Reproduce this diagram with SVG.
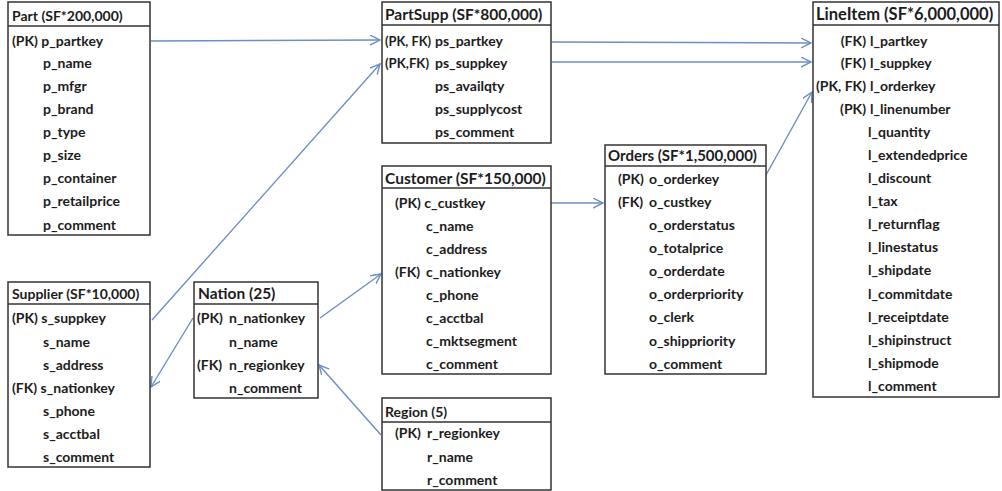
<svg xmlns="http://www.w3.org/2000/svg" width="1002" height="491" viewBox="0 0 1002 491">
<style>
.box{fill:#fff;stroke:#333;stroke-width:1.5}
.hl{stroke:#333;stroke-width:1.5}
text{font-family:Lato,"Open Sans",sans-serif;font-weight:bold;fill:#1c1c1c}
.h{font-size:14px}
.r{font-size:14px}
.e{text-anchor:end}
.c{fill:none;stroke:#6d8ec6;stroke-width:1.4}
</style>
<defs>
<marker id="a" markerWidth="12" markerHeight="12" refX="10" refY="5" orient="auto" markerUnits="userSpaceOnUse" viewBox="0 0 12 12">
<path d="M0,0 L10,5 L0,10" fill="none" stroke="#6d8ec6" stroke-width="1.4"/>
</marker>
</defs>
<rect width="1002" height="491" fill="#fff"/>
<g id="connectors">
<line class="c" x1="151" y1="41" x2="380" y2="40" marker-end="url(#a)"/>
<line class="c" x1="152" y1="320" x2="380" y2="64" marker-end="url(#a)"/>
<line class="c" x1="193" y1="318" x2="151" y2="387" marker-end="url(#a)"/>
<line class="c" x1="320" y1="318" x2="381" y2="274" marker-end="url(#a)"/>
<line class="c" x1="381" y1="435" x2="319" y2="365" marker-end="url(#a)"/>
<line class="c" x1="551" y1="203" x2="603" y2="203" marker-end="url(#a)"/>
<line class="c" x1="552" y1="42" x2="811" y2="43" marker-end="url(#a)"/>
<line class="c" x1="552" y1="62" x2="811" y2="62" marker-end="url(#a)"/>
<line class="c" x1="766" y1="175" x2="812" y2="92" marker-end="url(#a)"/>
</g>
<g id="part">
<rect class="box" x="8" y="2" width="142" height="233"/>
<line class="hl" x1="8" y1="26" x2="150" y2="26"/>
<text class="h" x="12" y="21">Part (SF*200,000)</text>
<text class="r" x="12" y="46">(PK) p_partkey</text>
<text class="r" x="43" y="68">p_name</text>
<text class="r" x="43" y="91">p_mfgr</text>
<text class="r" x="43" y="114">p_brand</text>
<text class="r" x="43" y="137">p_type</text>
<text class="r" x="43" y="160">p_size</text>
<text class="r" x="43" y="183">p_container</text>
<text class="r" x="43" y="206">p_retailprice</text>
<text class="r" x="43" y="230">p_comment</text>
</g>
<g id="partsupp">
<rect class="box" x="382" y="2" width="169" height="141"/>
<line class="hl" x1="382" y1="25" x2="551" y2="25"/>
<text class="h" x="385" y="20" style="font-size:15.5px">PartSupp (SF*800,000)</text>
<text class="r" x="385" y="46" textLength="46" lengthAdjust="spacingAndGlyphs">(PK, FK)</text>
<text class="r" x="435" y="46">ps_partkey</text>
<text class="r" x="385" y="68" textLength="44" lengthAdjust="spacingAndGlyphs">(PK,FK)</text>
<text class="r" x="435" y="68">ps_suppkey</text>
<text class="r" x="435" y="91">ps_availqty</text>
<text class="r" x="435" y="114">ps_supplycost</text>
<text class="r" x="435" y="137">ps_comment</text>
</g>
<g id="lineitem">
<rect class="box" x="813" y="2" width="186" height="395"/>
<line class="hl" x1="813" y1="25" x2="999" y2="25"/>
<text class="h" x="816" y="20" style="font-size:16.5px">LineItem (SF*6,000,000)</text>
<text class="r e" x="866" y="46">(FK)</text>
<text class="r" x="870" y="46">l_partkey</text>
<text class="r e" x="866" y="68">(FK)</text>
<text class="r" x="870" y="68">l_suppkey</text>
<text class="r e" x="866" y="91" textLength="50" lengthAdjust="spacingAndGlyphs">(PK, FK)</text>
<text class="r" x="870" y="91">l_orderkey</text>
<text class="r e" x="866" y="114">(PK)</text>
<text class="r" x="870" y="114">l_linenumber</text>
<text class="r" x="868" y="137">l_quantity</text>
<text class="r" x="868" y="160">l_extendedprice</text>
<text class="r" x="868" y="183">l_discount</text>
<text class="r" x="868" y="206">l_tax</text>
<text class="r" x="868" y="229">l_returnflag</text>
<text class="r" x="868" y="252">l_linestatus</text>
<text class="r" x="868" y="275">l_shipdate</text>
<text class="r" x="868" y="299">l_commitdate</text>
<text class="r" x="868" y="322">l_receiptdate</text>
<text class="r" x="868" y="345">l_shipinstruct</text>
<text class="r" x="868" y="368">l_shipmode</text>
<text class="r" x="868" y="391">l_comment</text>
</g>
<g id="supplier">
<rect class="box" x="8" y="282" width="142" height="185"/>
<line class="hl" x1="8" y1="304" x2="150" y2="304"/>
<text class="h" x="12" y="299">Supplier (SF*10,000)</text>
<text class="r" x="12" y="323">(PK) s_suppkey</text>
<text class="r" x="43" y="347">s_name</text>
<text class="r" x="43" y="370">s_address</text>
<text class="r" x="12" y="393">(FK) s_nationkey</text>
<text class="r" x="43" y="416">s_phone</text>
<text class="r" x="43" y="439">s_acctbal</text>
<text class="r" x="43" y="462">s_comment</text>
</g>
<g id="nation">
<rect class="box" x="194" y="282" width="124" height="116"/>
<line class="hl" x1="194" y1="304" x2="318" y2="304"/>
<text class="h" x="198" y="299" style="font-size:15.5px">Nation (25)</text>
<text class="r" x="197" y="323">(PK)</text>
<text class="r" x="229" y="323">n_nationkey</text>
<text class="r" x="229" y="347">n_name</text>
<text class="r" x="197" y="370">(FK)</text>
<text class="r" x="229" y="370">n_regionkey</text>
<text class="r" x="229" y="393">n_comment</text>
</g>
<g id="customer">
<rect class="box" x="382" y="166" width="169" height="208"/>
<line class="hl" x1="382" y1="188" x2="551" y2="188"/>
<text class="h" x="385" y="184" style="font-size:15.5px">Customer (SF*150,000)</text>
<text class="r" x="395" y="208">(PK) c_custkey</text>
<text class="r" x="426" y="231">c_name</text>
<text class="r" x="426" y="254">c_address</text>
<text class="r" x="395" y="277">(FK)</text>
<text class="r" x="426" y="277">c_nationkey</text>
<text class="r" x="426" y="300">c_phone</text>
<text class="r" x="426" y="323">c_acctbal</text>
<text class="r" x="426" y="346">c_mktsegment</text>
<text class="r" x="426" y="369">c_comment</text>
</g>
<g id="orders">
<rect class="box" x="605" y="145" width="161" height="229"/>
<line class="hl" x1="605" y1="166" x2="766" y2="166"/>
<text class="h" x="608" y="161" style="font-size:15px">Orders (SF*1,500,000)</text>
<text class="r" x="618" y="184">(PK)</text>
<text class="r" x="649" y="184">o_orderkey</text>
<text class="r" x="618" y="207">(FK)</text>
<text class="r" x="649" y="207">o_custkey</text>
<text class="r" x="649" y="230">o_orderstatus</text>
<text class="r" x="649" y="253">o_totalprice</text>
<text class="r" x="649" y="276">o_orderdate</text>
<text class="r" x="649" y="299">o_orderpriority</text>
<text class="r" x="649" y="322">o_clerk</text>
<text class="r" x="649" y="346">o_shippriority</text>
<text class="r" x="649" y="369">o_comment</text>
</g>
<g id="region">
<rect class="box" x="382" y="398" width="169" height="92"/>
<line class="hl" x1="382" y1="422" x2="551" y2="422"/>
<text class="h" x="385" y="417">Region (5)</text>
<text class="r" x="395" y="438">(PK)</text>
<text class="r" x="427" y="438">r_regionkey</text>
<text class="r" x="427" y="462">r_name</text>
<text class="r" x="427" y="485">r_comment</text>
</g>
</svg>
